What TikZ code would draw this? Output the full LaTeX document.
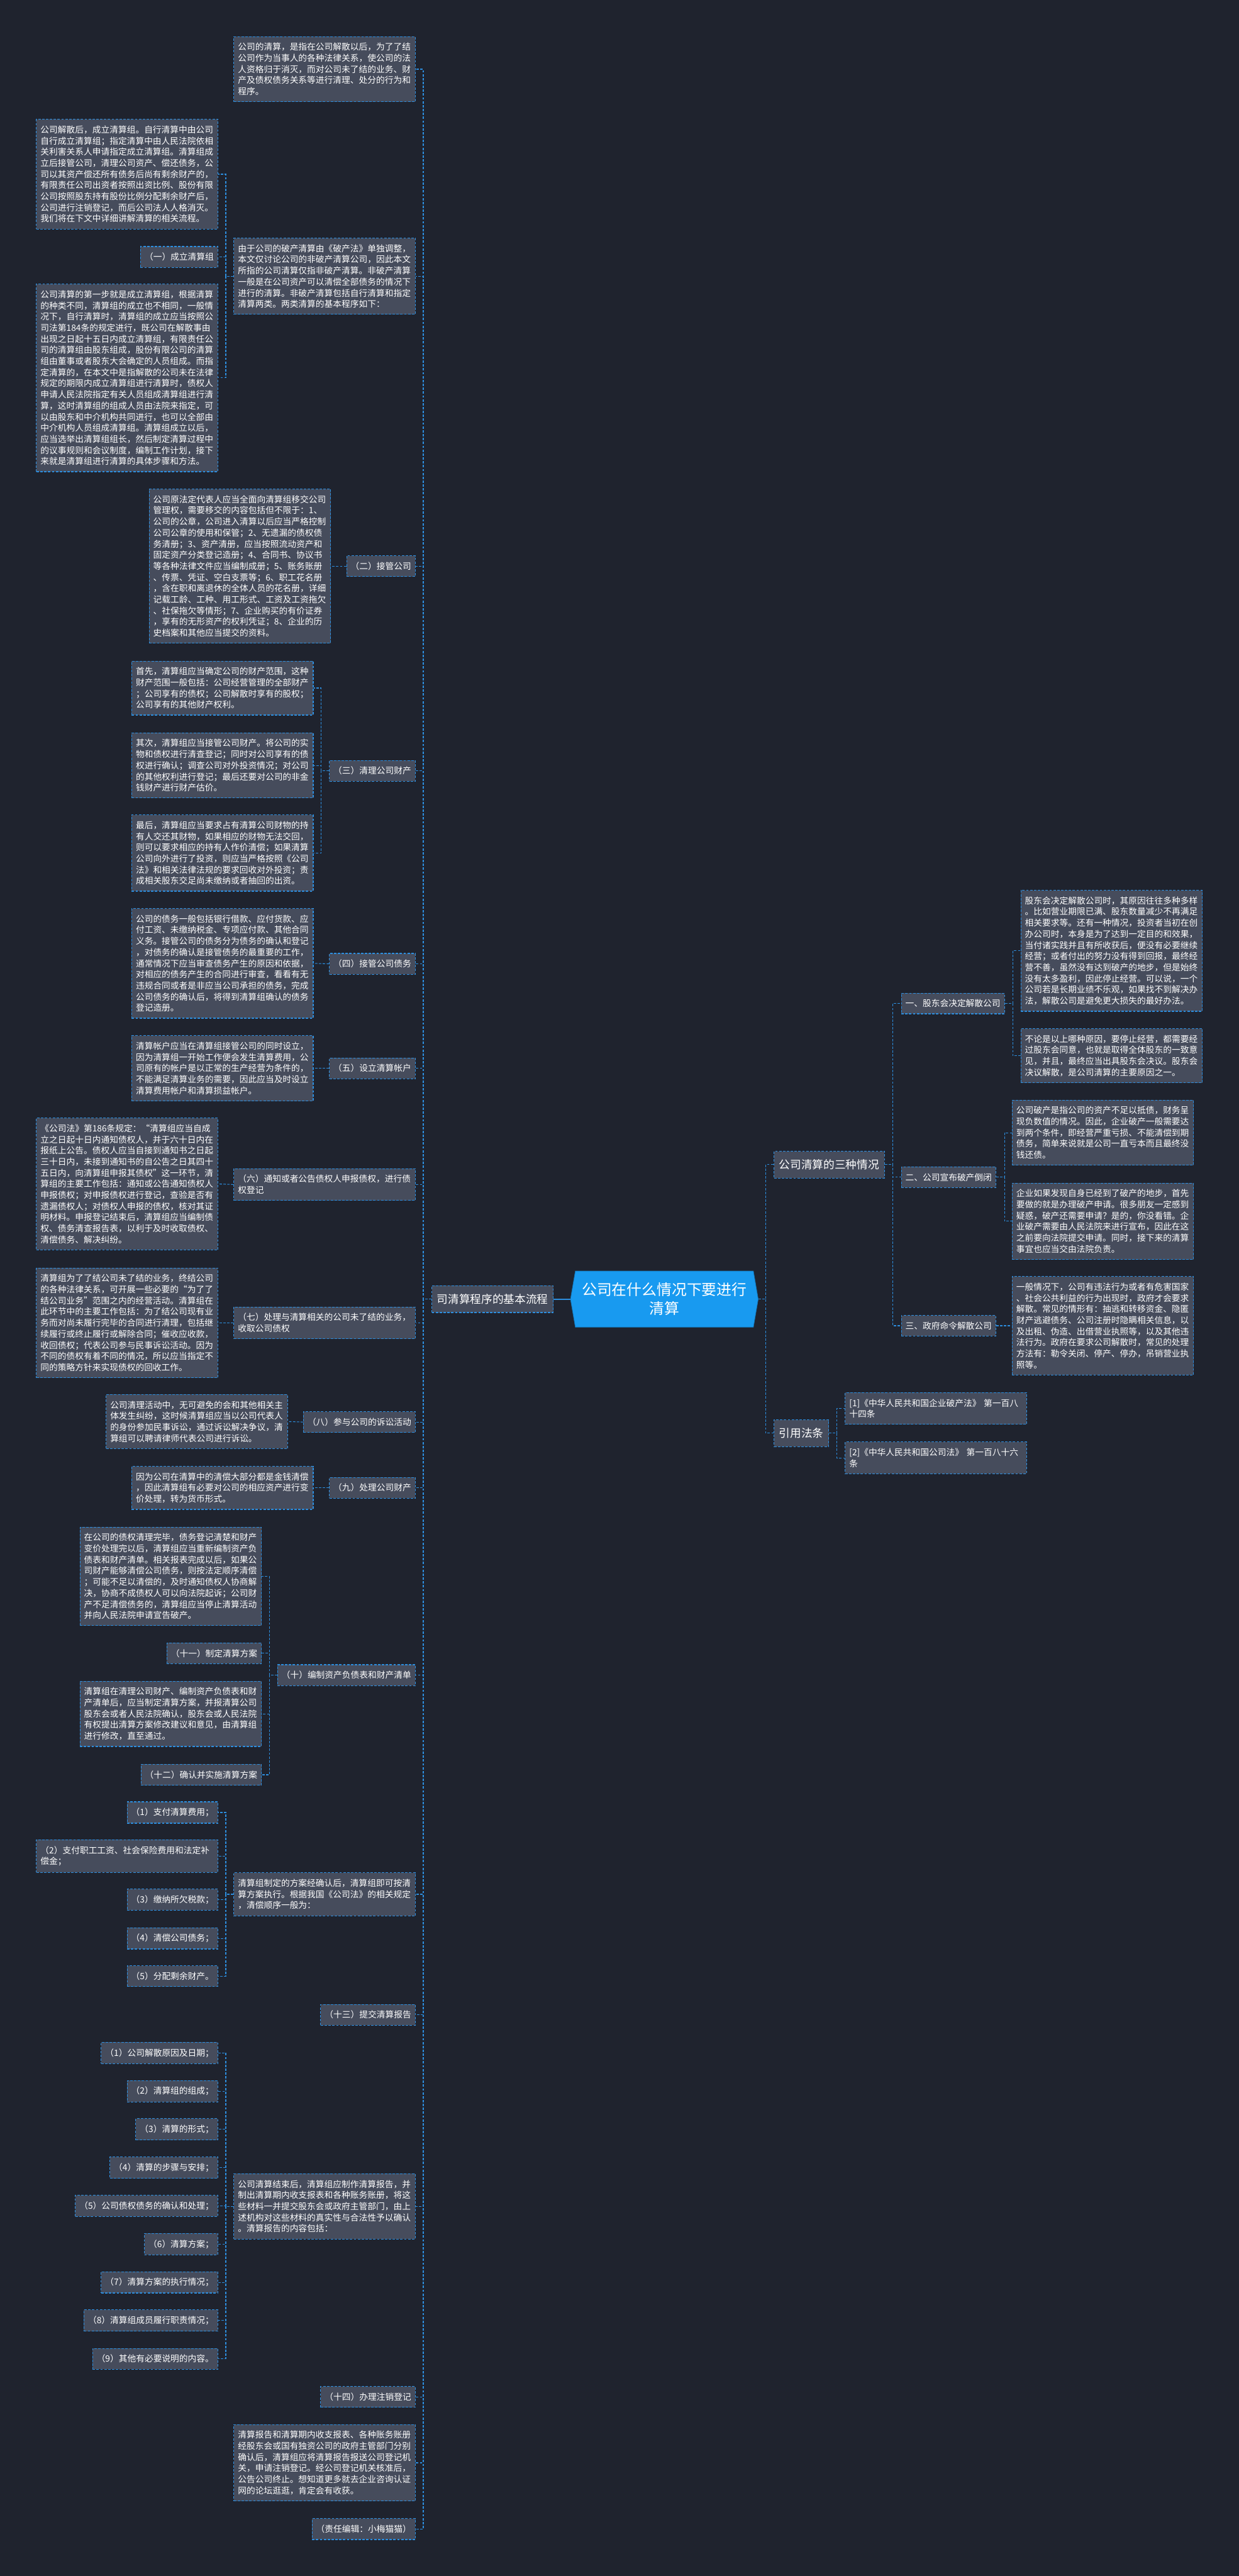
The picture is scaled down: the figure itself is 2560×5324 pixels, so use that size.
\documentclass[tikz,border=0pt]{standalone}
\usepackage{fontspec}
\setmainfont{Noto Sans CJK SC}
\definecolor{bg}{RGB}{31,35,46}
\definecolor{boxc}{RGB}{70,76,92}
\definecolor{lnk}{RGB}{45,142,222}
\definecolor{hub}{RGB}{24,154,240}
\newcommand\smallfnt{\fontsize{17.85}{23}\selectfont}
\newcommand\midfnt{\fontsize{23}{28}\selectfont}
\newcommand\hubfnt{\fontsize{31}{39}\selectfont}
\tikzset{tag/.style={draw=lnk,dash pattern=on 5pt off 3pt,line width=1.4pt,fill=boxc,text=white,
 font=\smallfnt,align=left,inner xsep=8.5pt,inner ysep=13pt},
 para/.style={tag,text width=358pt},
 head/.style={tag,font=\midfnt,inner xsep=10.5pt,inner ysep=17pt},
 link/.style={draw=lnk,dash pattern=on 5pt off 3pt,line width=1.4pt}}

\begin{document}
\begin{tikzpicture}[x=1pt,y=-1pt]
\fill[bg] (0,0) rectangle (2560,5324);
\useasboundingbox (0,0) rectangle (2560,5324);
\fill[hub,draw=hub!75!black,line width=1pt] (1189,2627) -- (1557,2627) -- (1567,2685) -- (1557,2743)
 -- (1189,2743) -- (1179,2685) -- cycle;
\node[text=white,font=\hubfnt,align=center,minimum width=388pt,minimum height=116pt,inner sep=0pt] (main) at (1373,2685) {公司在什么情况下要进行\\清算};
\node[head] (flow) at (1018,2685) {司清算程序的基本流程};
\node[head,anchor=west] (three) at (1599,2407) {公司清算的三种情况};
\node[head,anchor=west] (law) at (1599,2962) {引用法条};

\node[para,anchor=east] (defn) at (859,143) {公司的清算，是指在公司解散以后，为了了结\\公司作为当事人的各种法律关系，使公司的法\\人资格归于消灭，而对公司未了结的业务、财\\产及债权债务关系等进行清理、处分的行为和\\程序。};
\node[para,anchor=east] (why) at (859,571) {由于公司的破产清算由《破产法》单独调整，\\本文仅讨论公司的非破产清算公司，因此本文\\所指的公司清算仅指非破产清算。非破产清算\\一般是在公司资产可以清偿全部债务的情况下\\进行的清算。非破产清算包括自行清算和指定\\清算两类。两类清算的基本程序如下：};
\node[para,anchor=east] (why0) at (451,360) {公司解散后，成立清算组。自行清算中由公司\\自行成立清算组；指定清算中由人民法院依相\\关利害关系人申请指定成立清算组。清算组成\\立后接管公司，清理公司资产、偿还债务，公\\司以其资产偿还所有债务后尚有剩余财产的，\\有限责任公司出资者按照出资比例、股份有限\\公司按照股东持有股份比例分配剩余财产后，\\公司进行注销登记，而后公司法人人格消灭。\\我们将在下文中详细讲解清算的相关流程。};
\node[tag,anchor=east] (setup) at (451,531) {（一）成立清算组};
\node[para,anchor=east] (why2) at (451,781) {公司清算的第一步就是成立清算组，根据清算\\的种类不同，清算组的成立也不相同，一般情\\况下，自行清算时，清算组的成立应当按照公\\司法第184条的规定进行，既公司在解散事由\\出现之日起十五日内成立清算组，有限责任公\\司的清算组由股东组成，股份有限公司的清算\\组由董事或者股东大会确定的人员组成。而指\\定清算的，在本文中是指解散的公司未在法律\\规定的期限内成立清算组进行清算时，债权人\\申请人民法院指定有关人员组成清算组进行清\\算，这时清算组的组成人员由法院来指定，可\\以由股东和中介机构共同进行，也可以全部由\\中介机构人员组成清算组。清算组成立以后，\\应当选举出清算组组长，然后制定清算过程中\\的议事规则和会议制度，编制工作计划，接下\\来就是清算组进行清算的具体步骤和方法。};

\node[tag,anchor=east] (take) at (859,1170) {（二）接管公司};
\node[para,anchor=east] (take0) at (684,1170) {公司原法定代表人应当全面向清算组移交公司\\管理权，需要移交的内容包括但不限于：1、\\公司的公章，公司进入清算以后应当严格控制\\公司公章的使用和保管；2、无遗漏的债权债\\务清册；3、资产清册，应当按照流动资产和\\固定资产分类登记造册；4、合同书、协议书\\等各种法律文件应当编制成册；5、账务账册\\、传票、凭证、空白支票等；6、职工花名册\\，含在职和离退休的全体人员的花名册，详细\\记载工龄、工种、用工形式、工资及工资拖欠\\、社保拖欠等情形；7、企业购买的有价证券\\，享有的无形资产的权利凭证；8、企业的历\\史档案和其他应当提交的资料。};

\node[tag,anchor=east] (clean) at (859,1593) {（三）清理公司财产};
\node[para,anchor=east] (clean0) at (648,1422) {首先，清算组应当确定公司的财产范围，这种\\财产范围一般包括：公司经营管理的全部财产\\；公司享有的债权；公司解散时享有的股权；\\公司享有的其他财产权利。};
\node[para,anchor=east] (clean1) at (648,1582) {其次，清算组应当接管公司财产。将公司的实\\物和债权进行清查登记；同时对公司享有的债\\权进行确认；调查公司对外投资情况；对公司\\的其他权利进行登记；最后还要对公司的非金\\钱财产进行财产估价。};
\node[para,anchor=east] (clean2) at (648,1763) {最后，清算组应当要求占有清算公司财物的持\\有人交还其财物，如果相应的财物无法交回，\\则可以要求相应的持有人作价清偿；如果清算\\公司向外进行了投资，则应当严格按照《公司\\法》和相关法律法规的要求回收对外投资；责\\成相关股东交足尚未缴纳或者抽回的出资。};

\node[tag,anchor=east] (debt) at (859,1992) {（四）接管公司债务};
\node[para,anchor=east] (debt0) at (648,1991) {公司的债务一般包括银行借款、应付货款、应\\付工资、未缴纳税金、专项应付款、其他合同\\义务。接管公司的债务分为债务的确认和登记\\，对债务的确认是接管债务的最重要的工作，\\通常情况下应当审查债务产生的原因和依据，\\对相应的债务产生的合同进行审查，看看有无\\违规合同或者是非应当公司承担的债务，完成\\公司债务的确认后，将得到清算组确认的债务\\登记造册。};

\node[tag,anchor=east] (acct) at (859,2208) {（五）设立清算帐户};
\node[para,anchor=east] (acct0) at (648,2208) {清算帐户应当在清算组接管公司的同时设立，\\因为清算组一开始工作便会发生清算费用，公\\司原有的帐户是以正常的生产经营为条件的，\\不能满足清算业务的需要，因此应当及时设立\\清算费用帐户和清算损益帐户。};

\node[para,anchor=east] (notice) at (859,2448) {（六）通知或者公告债权人申报债权，进行债\\权登记};
\node[para,anchor=east] (notice0) at (451,2447) {《公司法》第186条规定：“清算组应当自成\\立之日起十日内通知债权人，并于六十日内在\\报纸上公告。债权人应当自接到通知书之日起\\三十日内，未接到通知书的自公告之日其四十\\五日内，向清算组申报其债权”这一环节，清\\算组的主要工作包括：通知或公告通知债权人\\申报债权；对申报债权进行登记，查验是否有\\遗漏债权人；对债权人申报的债权，核对其证\\明材料。申报登记结束后，清算组应当编制债\\权、债务清查报告表，以利于及时收取债权、\\清偿债务、解决纠纷。};

\node[para,anchor=east] (pend) at (859,2734) {（七）处理与清算相关的公司未了结的业务，\\收取公司债权};
\node[para,anchor=east] (pend0) at (451,2734) {清算组为了了结公司未了结的业务，终结公司\\的各种法律关系，可开展一些必要的“为了了\\结公司业务”范围之内的经营活动。清算组在\\此环节中的主要工作包括：为了结公司现有业\\务而对尚未履行完毕的合同进行清理，包括继\\续履行或终止履行或解除合同；催收应收款，\\收回债权；代表公司参与民事诉讼活动。因为\\不同的债权有着不同的情况，所以应当指定不\\同的策略方针来实现债权的回收工作。};

\node[tag,anchor=east] (suit) at (859,2939) {（八）参与公司的诉讼活动};
\node[para,anchor=east] (suit0) at (595,2938) {公司清理活动中，无可避免的会和其他相关主\\体发生纠纷，这时候清算组应当以公司代表人\\的身份参加民事诉讼，通过诉讼解决争议，清\\算组可以聘请律师代表公司进行诉讼。};

\node[tag,anchor=east] (sell) at (859,3075) {（九）处理公司财产};
\node[para,anchor=east] (sell0) at (648,3075) {因为公司在清算中的清偿大部分都是金钱清偿\\，因此清算组有必要对公司的相应资产进行变\\价处理，转为货币形式。};

\node[tag,anchor=east] (sheet) at (859,3462) {（十）编制资产负债表和财产清单};
\node[para,anchor=east] (sheet0) at (541,3258) {在公司的债权清理完毕，债务登记清楚和财产\\变价处理完以后，清算组应当重新编制资产负\\债表和财产清单。相关报表完成以后，如果公\\司财产能够清偿公司债务，则按法定顺序清偿\\；可能不足以清偿的，及时通知债权人协商解\\决，协商不成债权人可以向法院起诉；公司财\\产不足清偿债务的，清算组应当停止清算活动\\并向人民法院申请宣告破产。};
\node[tag,anchor=east] (plan) at (541,3417) {（十一）制定清算方案};
\node[para,anchor=east] (sheet2) at (541,3542) {清算组在清理公司财产、编制资产负债表和财\\产清单后，应当制定清算方案，并报清算公司\\股东会或者人民法院确认，股东会或人民法院\\有权提出清算方案修改建议和意见，由清算组\\进行修改，直至通过。};
\node[tag,anchor=east] (exec) at (541,3668) {（十二）确认并实施清算方案};

\node[para,anchor=east] (order) at (859,3915) {清算组制定的方案经确认后，清算组即可按清\\算方案执行。根据我国《公司法》的相关规定\\，清偿顺序一般为：};
\node[tag,anchor=east] (ord1) at (451,3746) {（1）支付清算费用；};
\node[para,anchor=east] (ord2) at (451,3836) {（2）支付职工工资、社会保险费用和法定补\\偿金；};
\node[tag,anchor=east] (ord3) at (451,3926) {（3）缴纳所欠税款；};
\node[tag,anchor=east] (ord4) at (451,4006) {（4）清偿公司债务；};
\node[tag,anchor=east] (ord5) at (451,4084) {（5）分配剩余财产。};

\node[tag,anchor=east] (submit) at (859,4164) {（十三）提交清算报告};
\node[para,anchor=east] (report) at (859,4560) {公司清算结束后，清算组应制作清算报告，并\\制出清算期内收支报表和各种账务账册，将这\\些材料一并提交股东会或政府主管部门，由上\\述机构对这些材料的真实性与合法性予以确认\\。清算报告的内容包括：};
\node[tag,anchor=east] (rep1) at (451,4243) {（1）公司解散原因及日期；};
\node[tag,anchor=east] (rep2) at (451,4322) {（2）清算组的组成；};
\node[tag,anchor=east] (rep3) at (451,4401) {（3）清算的形式；};
\node[tag,anchor=east] (rep4) at (451,4480) {（4）清算的步骤与安排；};
\node[tag,anchor=east] (rep5) at (451,4559) {（5）公司债权债务的确认和处理；};
\node[tag,anchor=east] (rep6) at (451,4638) {（6）清算方案；};
\node[tag,anchor=east] (rep7) at (451,4717) {（7）清算方案的执行情况；};
\node[tag,anchor=east] (rep8) at (451,4796) {（8）清算组成员履行职责情况；};
\node[tag,anchor=east] (rep9) at (451,4875) {（9）其他有必要说明的内容。};

\node[tag,anchor=east] (cancel) at (859,4954) {（十四）办理注销登记};
\node[para,anchor=east] (final) at (859,5090) {清算报告和清算期内收支报表、各种账务账册\\经股东会或国有独资公司的政府主管部门分别\\确认后，清算组应将清算报告报送公司登记机\\关，申请注销登记。经公司登记机关核准后，\\公告公司终止。想知道更多就去企业咨询认证\\网的论坛逛逛，肯定会有收获。};
\node[tag,anchor=east] (editor) at (859,5227) {（责任编辑：小梅猫猫）};

\node[tag,anchor=west] (kind1) at (1862,2074) {一、股东会决定解散公司};
\node[tag,anchor=west] (kind2) at (1862,2433) {二、公司宣布破产倒闭};
\node[tag,anchor=west] (kind3) at (1862,2740) {三、政府命令解散公司};
\node[para,anchor=west] (kind1a) at (2109,1965) {股东会决定解散公司时，其原因往往多种多样\\。比如营业期限已满、股东数量减少不再满足\\相关要求等。还有一种情况，投资者当初在创\\办公司时，本身是为了达到一定目的和效果，\\当付诸实践并且有所收获后，便没有必要继续\\经营；或者付出的努力没有得到回报，最终经\\营不善，虽然没有达到破产的地步，但是始终\\没有太多盈利，因此停止经营。可以说，一个\\公司若是长期业绩不乐观，如果找不到解决办\\法，解散公司是避免更大损失的最好办法。};
\node[para,anchor=west] (kind1b) at (2109,2182) {不论是以上哪种原因，要停止经营，都需要经\\过股东会同意，也就是取得全体股东的一致意\\见，并且，最终应当出具股东会决议。股东会\\决议解散，是公司清算的主要原因之一。};
\node[para,anchor=west] (kind2a) at (2091,2341) {公司破产是指公司的资产不足以抵债，财务呈\\现负数值的情况。因此，企业破产一般需要达\\到两个条件，即经营严重亏损、不能清偿到期\\债务，简单来说就是公司一直亏本而且最终没\\钱还债。};
\node[para,anchor=west] (kind2b) at (2091,2524) {企业如果发现自身已经到了破产的地步，首先\\要做的就是办理破产申请。很多朋友一定感到\\疑惑，破产还需要申请？是的，你没看错。企\\业破产需要由人民法院来进行宣布，因此在这\\之前要向法院提交申请。同时，接下来的清算\\事宜也应当交由法院负责。};
\node[para,anchor=west] (kind3a) at (2091,2740) {一般情况下，公司有违法行为或者有危害国家\\、社会公共利益的行为出现时，政府才会要求\\解散。常见的情形有：抽逃和转移资金、隐匿\\财产逃避债务、公司注册时隐瞒相关信息，以\\及出租、伪造、出借营业执照等，以及其他违\\法行为。政府在要求公司解散时，常见的处理\\方法有：勒令关闭、停产、停办，吊销营业执\\照等。};
\node[para,anchor=west] (law1) at (1746,2911) {[1]《中华人民共和国企业破产法》 第一百八\\十四条};
\node[para,anchor=west] (law2) at (1746,3013) {[2]《中华人民共和国公司法》 第一百八十六\\条};

\draw[lnk,line width=3pt] (main.west) -- (flow.east);
\draw[link] (main.east) -- ++(15,0) |- (three.west) (main.east) -- ++(15,0) |- (law.west);
\draw[link] (three.east) -- ++(17,0) |- (kind1.west) (three.east) -- ++(17,0) |- (kind2.west)
 (three.east) -- ++(17,0) |- (kind3.west);
\draw[link] (kind1.east) -- ++(16,0) |- (kind1a.west) (kind1.east) -- ++(16,0) |- (kind1b.west);
\draw[link] (kind2.east) -- ++(17,0) |- (kind2a.west) (kind2.east) -- ++(17,0) |- (kind2b.west);
\draw[link] (kind3.east) -- (kind3a.west);
\draw[link] (law.east) -- ++(16,0) |- (law1.west) (law.east) -- ++(16,0) |- (law2.west);
\draw[link] (flow.west) -- ++(-17,0) |- (defn.east) (flow.west) -- ++(-17,0) |- (why.east)
 (flow.west) -- ++(-17,0) |- (take.east) (flow.west) -- ++(-17,0) |- (clean.east)
 (flow.west) -- ++(-17,0) |- (debt.east) (flow.west) -- ++(-17,0) |- (acct.east)
 (flow.west) -- ++(-17,0) |- (notice.east) (flow.west) -- ++(-17,0) |- (pend.east)
 (flow.west) -- ++(-17,0) |- (suit.east) (flow.west) -- ++(-17,0) |- (sell.east)
 (flow.west) -- ++(-17,0) |- (sheet.east) (flow.west) -- ++(-17,0) |- (order.east)
 (flow.west) -- ++(-17,0) |- (submit.east) (flow.west) -- ++(-17,0) |- (report.east)
 (flow.west) -- ++(-17,0) |- (cancel.east) (flow.west) -- ++(-17,0) |- (final.east)
 (flow.west) -- ++(-17,0) |- (editor.east);
\draw[link] (why.west) -- ++(-16,0) |- (why0.east) (why.west) -- ++(-16,0) |- (setup.east)
 (why.west) -- ++(-16,0) |- (why2.east);
\draw[link] (take.west) -- (take0.east);
\draw[link] (clean.west) -- ++(-16,0) |- (clean0.east) (clean.west) -- ++(-16,0) |- (clean1.east)
 (clean.west) -- ++(-16,0) |- (clean2.east);
\draw[link] (debt.west) -- (debt0.east);
\draw[link] (acct.west) -- (acct0.east);
\draw[link] (notice.west) -- (notice0.east);
\draw[link] (pend.west) -- (pend0.east);
\draw[link] (suit.west) -- (suit0.east);
\draw[link] (sell.west) -- (sell0.east);
\draw[link] (sheet.west) -- ++(-16,0) |- (sheet0.east) (sheet.west) -- ++(-16,0) |- (plan.east)
 (sheet.west) -- ++(-16,0) |- (sheet2.east) (sheet.west) -- ++(-16,0) |- (exec.east);
\draw[link] (order.west) -- ++(-16,0) |- (ord1.east) (order.west) -- ++(-16,0) |- (ord2.east)
 (order.west) -- ++(-16,0) |- (ord3.east) (order.west) -- ++(-16,0) |- (ord4.east)
 (order.west) -- ++(-16,0) |- (ord5.east);
\draw[link] (report.west) -- ++(-16,0) |- (rep1.east) (report.west) -- ++(-16,0) |- (rep2.east)
 (report.west) -- ++(-16,0) |- (rep3.east) (report.west) -- ++(-16,0) |- (rep4.east)
 (report.west) -- ++(-16,0) |- (rep5.east) (report.west) -- ++(-16,0) |- (rep6.east)
 (report.west) -- ++(-16,0) |- (rep7.east) (report.west) -- ++(-16,0) |- (rep8.east)
 (report.west) -- ++(-16,0) |- (rep9.east);
\end{tikzpicture}
\end{document}
